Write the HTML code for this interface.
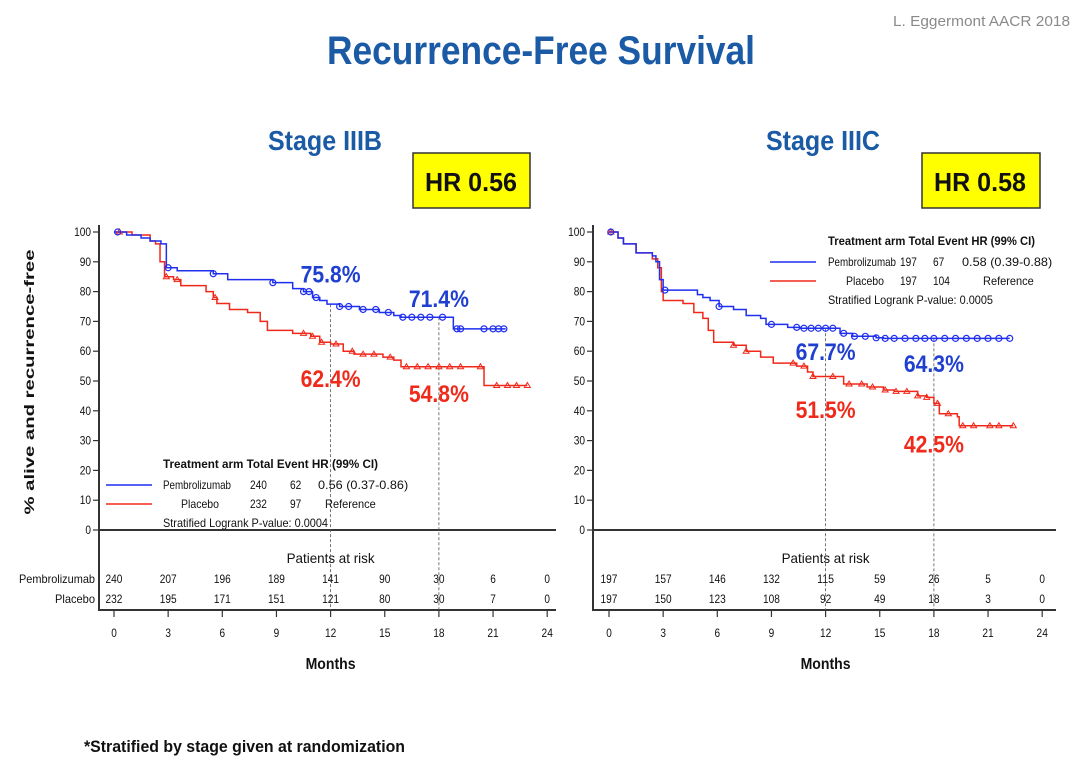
<!DOCTYPE html>
<html><head><meta charset="utf-8">
<style>
html,body{margin:0;padding:0;background:#fff;}
svg{display:block;}
text{font-family:"Liberation Sans",sans-serif;}
</style></head>
<body>
<svg id="chart" width="1080" height="760" viewBox="0 0 1080 760" xmlns="http://www.w3.org/2000/svg">
<text x="893" y="26" textLength="177" lengthAdjust="spacingAndGlyphs" font-size="15" fill="#8a8a8a">L. Eggermont AACR 2018</text>
<text x="327" y="64" textLength="428" lengthAdjust="spacingAndGlyphs" font-size="40" font-weight="bold" fill="#1b5aa5">Recurrence-Free Survival</text>
<text x="268" y="150" textLength="114" lengthAdjust="spacingAndGlyphs" font-size="28" font-weight="bold" fill="#1b5aa5">Stage IIIB</text>
<text x="766" y="150" textLength="114" lengthAdjust="spacingAndGlyphs" font-size="28" font-weight="bold" fill="#1b5aa5">Stage IIIC</text>
<g><rect x="413" y="153" width="117" height="55" fill="#ffff00" stroke="#333" stroke-width="1.5"/><text x="425" y="191" textLength="92" lengthAdjust="spacingAndGlyphs" font-size="26" font-weight="bold" fill="#111">HR  0.56</text></g>
<g><rect x="922" y="153" width="118" height="55" fill="#ffff00" stroke="#333" stroke-width="1.5"/><text x="934" y="191" textLength="92" lengthAdjust="spacingAndGlyphs" font-size="26" font-weight="bold" fill="#111">HR  0.58</text></g>
<text transform="translate(34,382) rotate(-90)" text-anchor="middle" textLength="265" lengthAdjust="spacingAndGlyphs" font-size="14" font-weight="bold" fill="#111">% alive and recurrence-free</text>
<text x="84" y="752" textLength="321" lengthAdjust="spacingAndGlyphs" font-size="17" font-weight="bold" fill="#111">*Stratified by stage given at randomization</text>
<g id="left"></g><g id="right"></g>
</svg>
<script>
// ---- data: Stage IIIB ----
const monthsTicks = [0,3,6,9,12,15,18,21,24];
const yTicks = [0,10,20,30,40,50,60,70,80,90,100];
const b_pemT = [0,0.7,1.5,2.0,2.6,2.9,3.5,5.5,6.3,8.8,9.9,10.5,11.0,11.4,11.8,12.5,13.6,14.7,15.5,15.9,18.8,21.7];
const b_pemS = [100,99,98,97,96,88,87,86,84,83,81,80,78,77,75.8,75,74,73,72,71.4,67.5,67.5];
const b_plaT = [0,1.0,2.0,2.3,2.55,2.8,3.3,3.7,5.1,5.5,5.7,6.4,7.4,8.1,8.5,9.9,10.9,11.4,12.0,12.7,13.3,14.9,15.5,15.9,20.5,22.9];
const b_plaS = [100,99,97,96,90,85,84,82,80,78,76,74,73,70,67,66,65,63,62.4,60,59,58,57,54.8,48.5,48.5];
const b_pemCens = [0.2,3.0,5.5,8.8,10.5,10.8,11.2,12.5,13.0,13.8,14.5,15.2,16,16.5,17,17.5,18.2,19,19.2,20.5,21,21.3,21.6];
const b_plaCens = [0.3,2.9,3.5,5.6,10.5,11,11.5,12.3,13.2,13.8,14.4,15.3,16.2,16.8,17.4,18,18.6,19.2,20.3,21.2,21.8,22.3,22.9];
const b_riskPem = [240,207,196,189,141,90,30,6,0];
const b_riskPla = [232,195,171,151,121,80,30,7,0];
const b_labels = [["75.8%",12,83,"#1f3fd0"],["71.4%",18,74.8,"#1f3fd0"],["62.4%",12,48,"#f02a1a"],["54.8%",18,43,"#f02a1a"]];
const b_legend = [["240","62","0.56 (0.37-0.86)"],["232","97","Reference"],"0.0004"];
// ---- data: Stage IIIC ----
const c_pemT = [0,0.5,0.8,1.5,2.4,2.6,2.8,3.0,4.9,5.2,5.6,6.1,6.9,7.6,8.4,8.7,9.9,10.6,12.8,13.5,14.8,15.2,22.2];
const c_pemS = [100,98,96,93,92,90,84,80.5,79,78,77,75,74,72,71,69,68,67.7,66,65,64.5,64.3,64.3];
const c_plaT = [0,0.5,0.8,1.5,2.4,2.7,2.9,3.0,4.1,4.7,5.2,5.5,5.8,6.9,7.6,8.4,9.1,10.4,11.0,11.3,12.5,13.0,14.3,15.2,15.8,17.1,17.6,18.0,18.3,19.3,19.4,22.4];
const c_plaS = [100,98,96,93,91,88,80,77,76,73,71,67,63,62,60,58,56,55,53,51.5,51.5,49,48,47,46.5,45,44.5,42.5,39,38,35,35];
const c_pemCens = [0.1,3.1,6.1,9.0,10.4,10.8,11.2,11.6,12,12.4,13,13.6,14.2,14.8,15.3,15.8,16.4,17,17.5,18,18.6,19.2,19.8,20.4,21,21.6,22.2];
const c_plaCens = [0.1,6.9,7.6,10.2,10.8,11.3,12.4,13.3,14,14.6,15.3,15.9,16.5,17.1,17.6,18.2,18.8,19.6,20.2,21.1,21.6,22.4];
const c_riskPem = [197,157,146,132,115,59,26,5,0];
const c_riskPla = [197,150,123,108,92,49,18,3,0];
const c_labels = [["67.7%",12,57,"#1f3fd0"],["64.3%",18,53,"#1f3fd0"],["51.5%",12,37.6,"#f02a1a"],["42.5%",18,26,"#f02a1a"]];
const c_legend = [["197","67","0.58 (0.39-0.88)"],["197","104","Reference"],"0.0005"];

const NS="http://www.w3.org/2000/svg";
function mk(p,tag,attrs,txt){const e=document.createElementNS(NS,tag);for(const k in attrs)e.setAttribute(k,attrs[k]);if(txt!==undefined)e.textContent=txt;p.appendChild(e);return e;}
function tl(s,fs){return Math.round(String(s).length*fs*0.47*10)/10;}

function panel(g,o){
  const x0=o.x0, xs=18.05, y0=530, ys=2.98;
  const X=m=>x0+m*xs, Y=v=>y0-v*ys;
  const L=o.axisX, R=o.right;
  let e=mk(g,'path',{d:`M${L},225 L${L},610 L${R},610 M${L},${y0} L${R},${y0}`,fill:'none',stroke:'#333','stroke-width':2});
  
  
  yTicks.forEach(v=>{
    const t=mk(g,'line',{x1:L-6,x2:L,y1:Y(v),y2:Y(v),stroke:'#333','stroke-width':1.2});
    
    
    const l=mk(g,'text',{x:L-8,y:Y(v)+4,'text-anchor':'end','font-size':12,fill:'#111',textLength:tl(v,12),lengthAdjust:'spacingAndGlyphs'},v);
    
    
  });
  monthsTicks.forEach((m,i)=>{
    const t=mk(g,'line',{x1:X(m),x2:X(m),y1:610,y2:617,stroke:'#333','stroke-width':1.2});
    
    
    const l=mk(g,'text',{x:X(m),y:637,'text-anchor':'middle','font-size':12,fill:'#111',textLength:tl(m,12),lengthAdjust:'spacingAndGlyphs'},m);
    
    
    const a=mk(g,'text',{x:X(m),y:583,'text-anchor':'middle','font-size':12,fill:'#111',textLength:tl(o.riskPem[i],12),lengthAdjust:'spacingAndGlyphs'},o.riskPem[i]);
    
    
    const b=mk(g,'text',{x:X(m),y:603,'text-anchor':'middle','font-size':12,fill:'#111',textLength:tl(o.riskPla[i],12),lengthAdjust:'spacingAndGlyphs'},o.riskPla[i]);
    
    
  });
  e=mk(g,'text',{x:X(12),y:563,'text-anchor':'middle','font-size':14,fill:'#111',textLength:88,lengthAdjust:'spacingAndGlyphs'},'Patients at risk');
  
  
  e=mk(g,'text',{x:X(12),y:669,'text-anchor':'middle','font-size':16,'font-weight':'bold',fill:'#111',textLength:50,lengthAdjust:'spacingAndGlyphs'},'Months');
  
  
  if(o.rowLabels){
    e=mk(g,'text',{x:L-4,y:583,'text-anchor':'end','font-size':12,fill:'#111',textLength:76,lengthAdjust:'spacingAndGlyphs'},'Pembrolizumab');
    
    
    e=mk(g,'text',{x:L-4,y:603,'text-anchor':'end','font-size':12,fill:'#111',textLength:40,lengthAdjust:'spacingAndGlyphs'},'Placebo');
    
    
  }
  [12,18].forEach(m=>{
    const d=mk(g,'line',{x1:X(m),x2:X(m),y1:Y(o.refY[m===12?0:1]),y2:610,stroke:'#555','stroke-width':0.8,'stroke-dasharray':'3,2'});
    
    
  });
  function step(T,S){let d=`M${X(T[0])},${Y(S[0])}`;for(let i=1;i<T.length;i++){d+=` L${X(T[i])},${Y(S[i-1])} L${X(T[i])},${Y(S[i])}`;}return d;}
  function valAt(T,S,t){let v=S[0];for(let i=0;i<T.length;i++){if(T[i]<=t)v=S[i];}return v;}
  const p1=mk(g,'path',{d:step(o.plaT,o.plaS),fill:'none',stroke:'#f0281a','stroke-width':1.5});
  
  
  const p2=mk(g,'path',{d:step(o.pemT,o.pemS),fill:'none',stroke:'#1f2ff0','stroke-width':1.5});
  
  
  o.plaCens.forEach(t=>{const cx=X(t),cy=Y(valAt(o.plaT,o.plaS,t));
    const m=mk(g,'path',{d:`M${cx-3},${cy+2} L${cx+3},${cy+2} L${cx},${cy-3} Z`,fill:'none',stroke:'#f0281a','stroke-width':1});
    
    });
  o.pemCens.forEach(t=>{const cx=X(t),cy=Y(valAt(o.pemT,o.pemS,t));
    const m=mk(g,'circle',{cx:cx,cy:cy,r:3,fill:'none',stroke:'#1f2ff0','stroke-width':1.2});
    
    });
  o.labels.forEach(a=>{
    const t=mk(g,'text',{x:X(a[1]),y:Y(a[2]),'text-anchor':'middle','font-size':24,'font-weight':'bold',fill:a[3],textLength:60,lengthAdjust:'spacingAndGlyphs'},a[0]);
    
    
  });
  const lg=mk(g,'g',{});
  
  
  const lx=o.legX, ly=o.legY, c=o.cols;
  mk(lg,'text',{x:lx+c[0],y:ly,'font-size':11.5,'font-weight':'bold',fill:'#111',textLength:c[4],lengthAdjust:'spacingAndGlyphs'},'Treatment arm  Total  Event     HR (99% CI)');
  mk(lg,'line',{x1:lx,x2:lx+46,y1:ly+17,y2:ly+17,stroke:'#1f2ff0','stroke-width':1.5});
  mk(lg,'line',{x1:lx,x2:lx+46,y1:ly+36,y2:ly+36,stroke:'#f0281a','stroke-width':1.5});
  mk(lg,'text',{x:lx+c[0],y:ly+21,'font-size':12,fill:'#111',textLength:68,lengthAdjust:'spacingAndGlyphs'},'Pembrolizumab');
  mk(lg,'text',{x:lx+c[0]+18,y:ly+40,'font-size':12,fill:'#111',textLength:38,lengthAdjust:'spacingAndGlyphs'},'Placebo');
  [0,1].forEach(r=>{o.legend[r].forEach((v,k)=>{
    let x=lx+c[k+1]; if(r==1&&k==2)x+=c[5];
    mk(lg,'text',{x:x,y:ly+21+r*19,'font-size':12,fill:'#111',textLength:tl(v,12),lengthAdjust:'spacingAndGlyphs'},v);});});
  mk(lg,'text',{x:lx+c[0],y:ly+59,'font-size':12,fill:'#111',textLength:165,lengthAdjust:'spacingAndGlyphs'},'Stratified Logrank P-value: '+o.legend[2]);
}
panel(document.getElementById('left'),{x0:114,axisX:99,right:556,pemT:b_pemT,pemS:b_pemS,plaT:b_plaT,plaS:b_plaS,pemCens:b_pemCens,plaCens:b_plaCens,riskPem:b_riskPem,riskPla:b_riskPla,labels:b_labels,legend:b_legend,legX:106,legY:468,cols:[57,144,184,212,215,7],rowLabels:true,refY:[75.8,71.4]});
panel(document.getElementById('right'),{x0:609,axisX:593,right:1056,pemT:c_pemT,pemS:c_pemS,plaT:c_plaT,plaS:c_plaS,pemCens:c_pemCens,plaCens:c_plaCens,riskPem:c_riskPem,riskPla:c_riskPla,labels:c_labels,legend:c_legend,legX:770,legY:245,cols:[58,130,163,192,207,21],rowLabels:false,refY:[67.7,64.3]});
document.getElementById('left');
document.getElementById('left');
document.getElementById('right');
document.getElementById('right');
</script>
</body></html>
